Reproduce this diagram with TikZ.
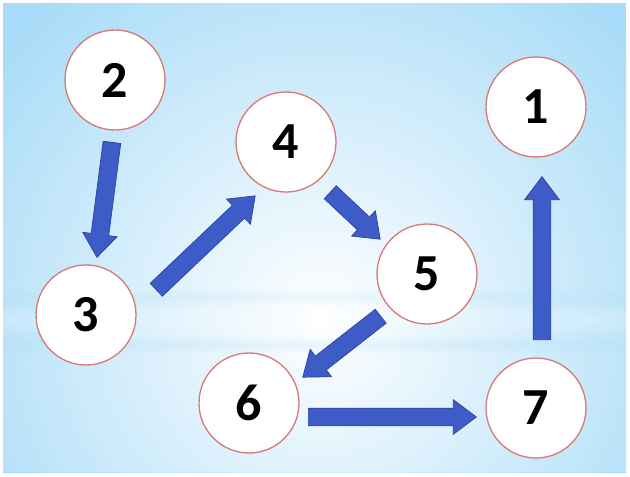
\documentclass[tikz,border=0pt]{standalone}
\usepackage{fontspec}
\setmainfont{Carlito}
\usetikzlibrary{shapes.arrows,calc,fadings}
\definecolor{arrowblue}{RGB}{62,92,200}
\definecolor{arrowedge}{RGB}{44,66,158}
\definecolor{circred}{RGB}{214,122,118}
\definecolor{bgblue}{RGB}{140,208,246}
\definecolor{bandblue}{RGB}{170,220,245}
\tikzset{
  numcirc/.style={circle, draw=circred, line width=1.3pt, fill=white, minimum size=100pt, inner sep=0pt,
    font=\fontsize{52}{52}\selectfont\bfseries, text=black},
  barrow/.style={single arrow, draw=arrowedge, line width=0.7pt, fill=arrowblue, inner sep=0pt,
    text height=17pt, text depth=0pt, text width=0pt,
    minimum width=34pt, single arrow head extend=8.5pt, single arrow tip angle=74, anchor=tail},
}
\newcommand{\blockarrow}[3]{%
  \path let \p1=(#1), \p2=(#2), \n1={atan2(\y2-\y1,\x2-\x1)}, \n2={veclen(\x2-\x1,\y2-\y1)} in
    node[barrow, minimum height=\n2, rotate=\n1] (#3) at (\p1) {};}
\begin{document}
\begin{tikzpicture}[x=1pt,y=-1pt]
\useasboundingbox (0,0) rectangle (630,477);
\fill[white] (0,0) rectangle (630,477);
% background
\begin{scope}
  \clip (3,3) rectangle (626,472);
  \fill[bgblue] (3,3) rectangle (626,472);
  \shade[inner color=white, outer color=bgblue] (320,320) circle (420);
  \fill[white, opacity=0.25] (3,3) rectangle (626,472);
  \foreach \y/\o in {290/0.08,293/0.12,296/0.16,299/0.12,302/0.08,338/0.1,341/0.16,344/0.2,347/0.16,350/0.1}
    \fill[bandblue, opacity=\o] (3,\y) rectangle (626,\y+3);
  \foreach \y/\o in {308/0.1,314/0.18,320/0.18,326/0.1}
    \fill[white, opacity=\o] (3,\y) rectangle (626,\y+6);
\end{scope}
% nodes
\node[numcirc] (n1) at (536,107) {1};
\node[numcirc] (n2) at (115,80) {2};
\node[numcirc] (n3) at (86,315) {3};
\node[numcirc] (n4) at (286,142) {4};
\node[numcirc] (n5) at (427,274) {5};
\node[numcirc] (n6) at (249,403) {6};
\node[numcirc] (n7) at (536,408) {7};
% arrow end points
\coordinate (t23) at (112,142);
\coordinate (h23) at (97,257);
\coordinate (t34) at (156,290);
\coordinate (h34) at (255,196);
\coordinate (t45) at (330,192);
\coordinate (h45) at (380,239);
\coordinate (t56) at (381,316);
\coordinate (h56) at (303,377);
\coordinate (t67) at (308,417);
\coordinate (h67) at (476,417);
\coordinate (t71) at (542,340);
\coordinate (h71) at (542,177);
\blockarrow{t23}{h23}{a23}
\blockarrow{t34}{h34}{a34}
\blockarrow{t45}{h45}{a45}
\blockarrow{t56}{h56}{a56}
\blockarrow{t67}{h67}{a67}
\blockarrow{t71}{h71}{a71}
\end{tikzpicture}
\end{document}
